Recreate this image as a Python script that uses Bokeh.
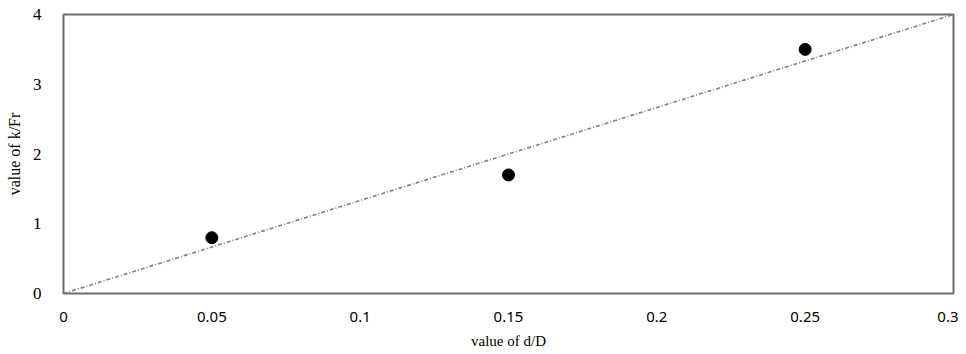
from bokeh.plotting import figure
from bokeh.models import Range1d, FixedTicker
from bokeh.embed import file_html
from bokeh.resources import INLINE

# data
d_over_D = [0.05, 0.15, 0.25]
k_over_Fr = [0.8, 1.7, 3.5]
trend_x = [0.0, 0.3]
trend_y = [0.0, 4.0]
x_ticks = [0, 0.05, 0.1, 0.15, 0.2, 0.25, 0.3]
x_tick_labels = ["0", "0.05", "0.1", "0.15", "0.2", "0.25", "0.3"]
y_ticks = [0, 1, 2, 3, 4]
y_tick_labels = ["0", "1", "2", "3", "4"]

SERIF = "Liberation Serif"
SANS = "Noto Sans"

p = figure(width=958, height=352, output_backend="svg", toolbar_location=None,
           x_range=Range1d(0, 0.3), y_range=Range1d(0, 4),
           min_border_left=63, min_border_right=5, min_border_top=14, min_border_bottom=59)

p.outline_line_color = "#6b6b6b"
p.outline_line_width = 2
p.xgrid.visible = False
p.ygrid.visible = False

p.line(trend_x, trend_y, line_color="#808080", line_width=1.6, line_dash="4 2 1 2")
p.scatter(d_over_D, k_over_Fr, size=12, color="black")

p.xaxis.ticker = FixedTicker(ticks=x_ticks)
p.yaxis.ticker = FixedTicker(ticks=y_ticks)
p.xaxis.major_label_overrides = {t: l for t, l in zip(x_ticks, x_tick_labels)}
p.yaxis.major_label_overrides = {t: l for t, l in zip(y_ticks, y_tick_labels)}

for ax in (p.xaxis[0], p.yaxis[0]):
    ax.axis_line_color = None
    ax.major_tick_line_color = None
    ax.minor_tick_line_color = None
    ax.major_label_text_color = "black"
    ax.axis_label_text_font = SERIF
    ax.axis_label_text_font_style = "normal"
    ax.axis_label_text_color = "black"

p.xaxis.axis_label_text_font_size = "15px"
p.yaxis.axis_label_text_font_size = "16px"
p.xaxis.major_label_text_font = SANS
p.xaxis.major_label_text_font_size = "15px"
p.yaxis.major_label_text_font = SERIF
p.yaxis.major_label_text_font_size = "17px"

p.xaxis.axis_label = "value of d/D"
p.yaxis.axis_label = "value of k/Fr"
p.xaxis.major_label_standoff = 12
p.yaxis.major_label_standoff = 16
p.xaxis.axis_label_standoff = 8
p.yaxis.axis_label_standoff = 7

open("out.html", "w").write(file_html(p, INLINE))
